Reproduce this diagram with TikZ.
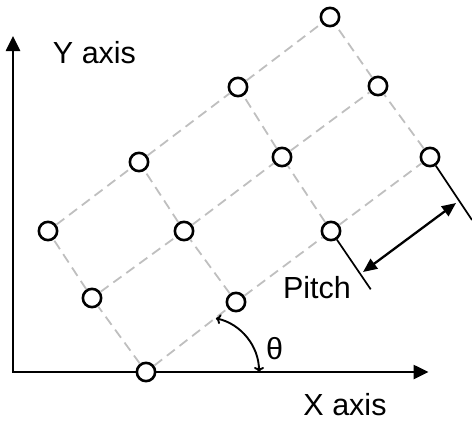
\documentclass[tikz,border=0pt]{standalone}
\usepackage{fontspec}
\setmainfont{Liberation Sans}
\usetikzlibrary{arrows.meta}
\begin{document}
\begin{tikzpicture}[x=1bp,y=-1bp,
  dot/.style={circle,draw=black,fill=white,line width=2.6bp,minimum size=18.3bp,inner sep=0pt},
  gridline/.style={draw=black!25,line width=1.8bp,dash pattern=on 10bp off 6bp},
  axisline/.style={line width=2.6bp,{Triangle[length=15bp,width=14bp]}-{Triangle[length=15bp,width=14bp]}},
  pitcharrow/.style={line width=2.3bp,{Triangle[length=14bp,width=12bp]}-{Triangle[length=14bp,width=12bp]}},
  anglearc/.style={line width=1.9bp,{To[length=5bp,width=10bp]}-{To[length=5bp,width=10bp]}},
  ticks/.style={line width=1.7bp},
  lbl/.style={font=\fontsize{30.5bp}{36bp}\selectfont,inner sep=0pt,anchor=base}]
\useasboundingbox (0,0) rectangle (472,421);
% axes
\coordinate (ytip) at (13,36);
\coordinate (orig) at (13,372);
\coordinate (xtip) at (428.5,372);
\draw[axisline] (ytip) -- (orig) -- (xtip);
% lattice points
\node[dot] (A) at (146,372) {};
\node[dot] (B) at (236,302) {};
\node[dot] (C) at (331,231) {};
\node[dot] (D) at (430,157) {};
\node[dot] (E) at (92,298) {};
\node[dot] (F) at (184,231) {};
\node[dot] (G) at (282,157) {};
\node[dot] (H) at (378,86) {};
\node[dot] (I) at (48,231) {};
\node[dot] (J) at (139,162) {};
\node[dot] (K) at (238,87) {};
\node[dot] (L) at (330,17) {};
% dashed grid
\draw[gridline] (A) -- (B) -- (C) -- (D);
\draw[gridline] (E) -- (F) -- (G) -- (H);
\draw[gridline] (I) -- (J) -- (K) -- (L);
\draw[gridline] (A) -- (E) -- (I);
\draw[gridline] (B) -- (F) -- (J);
\draw[gridline] (C) -- (G) -- (K);
\draw[gridline] (D) -- (H) -- (L);
% pitch
\coordinate (ct) at (370.7,289.3);
\coordinate (dt) at (472,220);
\draw[ticks] (C) -- (ct);
\draw[ticks] (D) -- (dt);
\coordinate (p1) at (363,272);
\coordinate (p2) at (456,203);
\draw[pitcharrow] (p1) -- (p2);
% angle
\coordinate (tc) at (204,372);
\draw[anglearc] ([shift={(-77.5:55)}]tc) arc[start angle=-77.5,end angle=0,radius=55];
% labels
\node[lbl] (ylab) at (94.5,63) {Y axis};
\node[lbl] (xlab) at (345,415) {X axis};
\node[lbl] (plab) at (317,298) {Pitch};
\node[lbl] (th) at (274.5,359) {θ};
\end{tikzpicture}
\end{document}
